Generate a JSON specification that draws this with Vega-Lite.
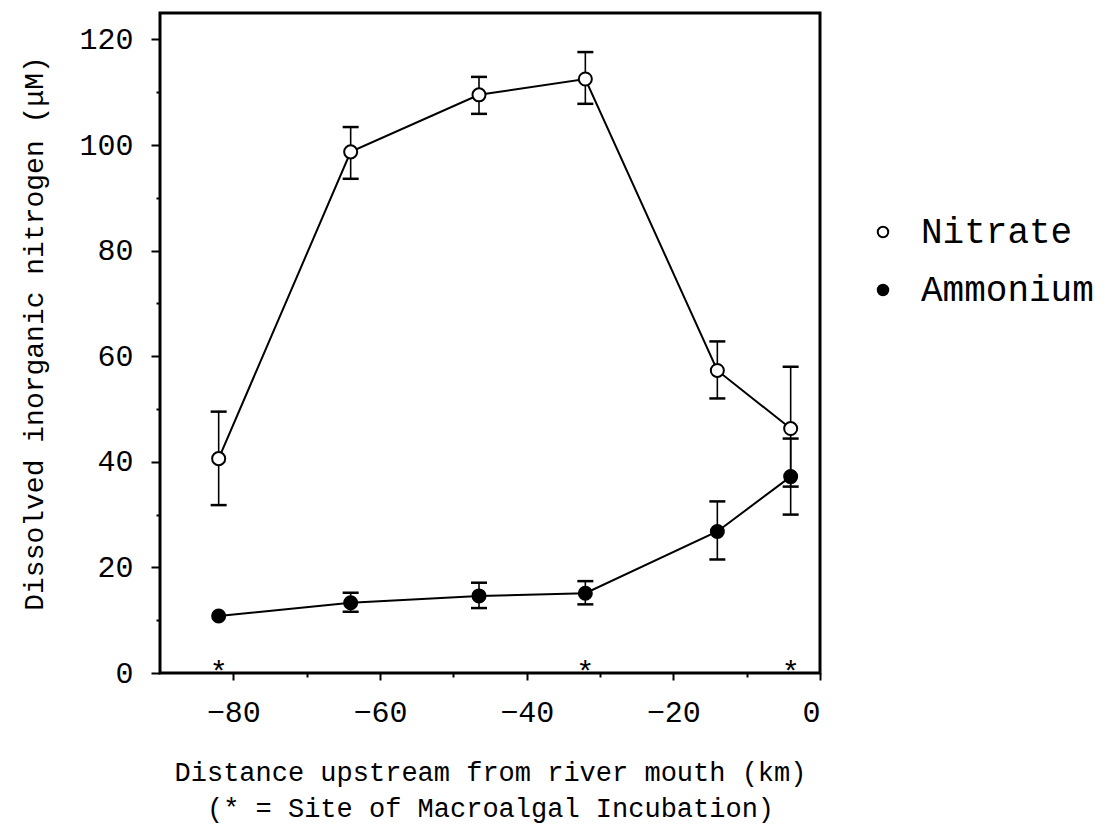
{
  "$schema": "https://vega.github.io/schema/vega-lite/v6.json",
  "autosize": "none",
  "padding": {"left": 160, "top": 13, "right": 300, "bottom": 167},
  "width": 660,
  "height": 660,
  "background": "white",
  "config": {
    "view": {"stroke": "black", "strokeWidth": 3},
    "font": "Liberation Mono",
    "axis": {
      "domain": false, "grid": false, "tickColor": "black", "labelColor": "black",
      "titleColor": "black", "labelFont": "Liberation Mono", "titleFont": "Liberation Mono",
      "titleFontWeight": "normal", "tickWidth": 2
    },
    "legend": {"labelFont": "Liberation Mono", "labelColor": "black"}
  },
  "datasets": {
    "nitro": [
      {"series": "Nitrate", "km": -82, "value": 40.6, "lo": 31.8, "hi": 49.5},
      {"series": "Nitrate", "km": -64, "value": 98.7, "lo": 93.6, "hi": 103.4},
      {"series": "Nitrate", "km": -46.5, "value": 109.5, "lo": 105.9, "hi": 112.9},
      {"series": "Nitrate", "km": -32, "value": 112.5, "lo": 107.8, "hi": 117.6},
      {"series": "Nitrate", "km": -14, "value": 57.3, "lo": 52.0, "hi": 62.8},
      {"series": "Nitrate", "km": -4, "value": 46.3, "lo": 35.3, "hi": 58.0},
      {"series": "Ammonium", "km": -82, "value": 10.8, "lo": null, "hi": null},
      {"series": "Ammonium", "km": -64, "value": 13.3, "lo": 11.6, "hi": 15.2},
      {"series": "Ammonium", "km": -46.5, "value": 14.6, "lo": 12.3, "hi": 17.1},
      {"series": "Ammonium", "km": -32, "value": 15.1, "lo": 13.0, "hi": 17.4},
      {"series": "Ammonium", "km": -14, "value": 26.8, "lo": 21.5, "hi": 32.5},
      {"series": "Ammonium", "km": -4, "value": 37.2, "lo": 30.0, "hi": 44.4}
    ],
    "sites": [
      {"km": -82, "y": 0.0, "mark": "*"},
      {"km": -32, "y": 0.0, "mark": "*"},
      {"km": -4, "y": 0.0, "mark": "*"}
    ]
  },
  "layer": [
    {
      "data": {"name": "nitro"},
      "mark": {"type": "rule", "color": "black", "strokeWidth": 1.6},
      "encoding": {
        "x": {"field": "km", "type": "quantitative", "scale": {"domain": [-90, 0], "nice": false, "zero": false}, "axis": null},
        "y": {"field": "lo", "type": "quantitative", "scale": {"domain": [0, 125], "nice": false}, "axis": null},
        "y2": {"field": "hi"}
      }
    },
    {
      "data": {"name": "nitro"},
      "mark": {"type": "tick", "orient": "horizontal", "size": 16, "thickness": 2.5, "color": "black", "opacity": 1},
      "encoding": {
        "x": {"field": "km", "type": "quantitative", "axis": null},
        "y": {"field": "lo", "type": "quantitative", "axis": null}
      }
    },
    {
      "data": {"name": "nitro"},
      "mark": {"type": "tick", "orient": "horizontal", "size": 16, "thickness": 2.5, "color": "black", "opacity": 1},
      "encoding": {
        "x": {"field": "km", "type": "quantitative", "axis": null},
        "y": {"field": "hi", "type": "quantitative", "axis": null}
      }
    },
    {
      "data": {"name": "nitro"},
      "mark": {"type": "line", "color": "black", "strokeWidth": 2},
      "encoding": {
        "x": {"field": "km", "type": "quantitative", "axis": null},
        "y": {"field": "value", "type": "quantitative", "axis": null},
        "detail": {"field": "series"}
      }
    },
    {
      "data": {"name": "nitro"},
      "mark": {"type": "point", "shape": "circle", "filled": true, "stroke": "black", "strokeWidth": 2, "size": 170, "opacity": 1},
      "encoding": {
        "x": {
          "field": "km", "type": "quantitative",
          "axis": {
            "orient": "bottom", "values": [-80, -60, -40, -20, 0], "tickSize": 7,
            "labelFontSize": 30, "labelPadding": 17,
            "title": ["Distance upstream from river mouth (km)", "(* = Site of Macroalgal Incubation)"],
            "titleFontSize": 27, "titleLineHeight": 36, "titleY": 86, "titleBaseline": "top"
          }
        },
        "y": {
          "field": "value", "type": "quantitative",
          "axis": {
            "orient": "left", "values": [0, 20, 40, 60, 80, 100, 120], "tickSize": 9,
            "labelFontSize": 30, "labelPadding": 18,
            "title": "Dissolved inorganic nitrogen (μM)", "titleFontSize": 28,
            "titleX": -126, "titleY": 320, "titleAlign": "center", "titleBaseline": "middle", "titleAngle": -90
          }
        },
        "fill": {
          "field": "series", "type": "nominal",
          "scale": {"domain": ["Nitrate", "Ammonium"], "range": ["white", "black"]},
          "legend": {
            "title": null, "orient": "none", "legendX": 705, "legendY": 201, "padding": 0,
            "symbolType": "circle", "symbolSize": 110, "symbolStrokeColor": "black", "symbolStrokeWidth": 2,
            "labelFontSize": 36, "labelOffset": 20, "rowPadding": 22, "labelLimit": 400
          }
        }
      }
    },
    {
      "data": {"name": "sites"},
      "mark": {"type": "text", "fontSize": 30, "color": "black", "baseline": "middle", "align": "center"},
      "encoding": {
        "x": {
          "field": "km", "type": "quantitative",
          "axis": {"orient": "bottom", "values": [-70, -50, -30, -10], "tickSize": 4, "labels": false, "title": null}
        },
        "y": {
          "field": "y", "type": "quantitative",
          "axis": {"orient": "left", "values": [10, 30, 50, 70, 90, 110], "tickSize": 4, "labels": false, "title": null}
        },
        "text": {"field": "mark"}
      }
    }
  ],
  "resolve": {"axis": {"x": "independent", "y": "independent"}}
}
